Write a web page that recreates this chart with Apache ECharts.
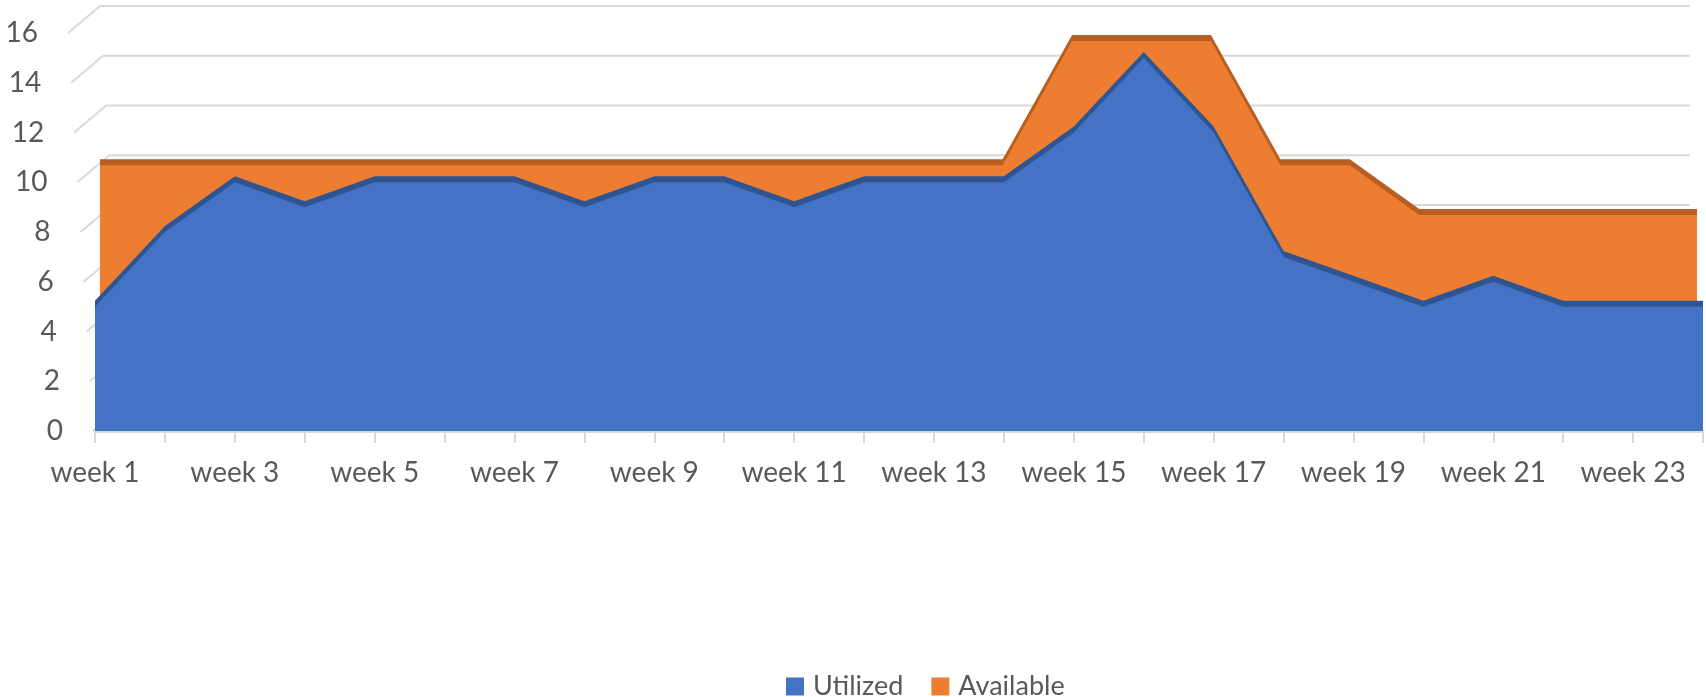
<!DOCTYPE html>
<html>
<head>
<meta charset="utf-8">
<script src="https://cdn.jsdelivr.net/npm/echarts@6/dist/echarts.min.js"></script>
<style>
  html, body { margin: 0; padding: 0; background: #fff; }
  #weekChart { width: 1706px; height: 697px; }
</style>
</head>
<body>
<div id="weekChart"></div>
<script>
var weeks = ['week 1', 'week 2', 'week 3', 'week 4', 'week 5', 'week 6', 'week 7', 'week 8',
  'week 9', 'week 10', 'week 11', 'week 12', 'week 13', 'week 14', 'week 15', 'week 16',
  'week 17', 'week 18', 'week 19', 'week 20', 'week 21', 'week 22', 'week 23', 'week 24'];
var utilized = [5, 8, 10, 9, 10, 10, 10, 9, 10, 10, 9, 10, 10, 10, 12, 15, 12, 7, 6, 5, 6, 5, 5, 5];
var available = [10, 10, 10, 10, 10, 10, 10, 10, 10, 10, 10, 10, 10, 10, 15, 15, 15, 10, 10, 8, 8, 8, 8, 8];
var yTicks = [0, 2, 4, 6, 8, 10, 12, 14, 16];

var textColor = '#595959';
var fontName = 'Lato';

var myChart = echarts.init(document.getElementById('weekChart'));

// y labels lean with the left wall, so pad each one a little differently
var labelRich = {};
yTicks.forEach(function (v) {
  labelRich['t' + v] = {
    color: textColor, fontFamily: fontName, fontSize: 28,
    padding: [0, v / 16 * 25, 0, 0]
  };
});

myChart.setOption({
  animation: false,
  backgroundColor: '#fff',
  legend: {
    left: 781,
    top: 668,
    icon: 'rect',
    itemWidth: 18,
    itemHeight: 18,
    itemGap: 28,
    textStyle: { color: textColor, fontFamily: fontName, fontSize: 27, padding: [0, 0, 0, 4] },
    data: ['Utilized', 'Available']
  },
  grid: [
    // front row (Utilized)
    { left: 95, right: 3, top: 33, height: 398 },
    // back row (Available), pushed up/in for depth
    { left: 100, right: 9, top: 16, height: 398 }
  ],
  xAxis: [
    {
      type: 'category',
      gridIndex: 0,
      data: weeks,
      boundaryGap: false,
      axisLine: { lineStyle: { color: '#d9d9d9', width: 3 } },
      axisTick: { show: true, interval: 0, length: 12, lineStyle: { color: '#d9d9d9', width: 2 } },
      axisLabel: { interval: 1, margin: 28, color: textColor, fontFamily: fontName, fontSize: 28 },
      splitLine: { show: false }
    },
    {
      type: 'category',
      gridIndex: 1,
      data: weeks,
      boundaryGap: false,
      show: false
    }
  ],
  yAxis: [
    {
      type: 'value',
      gridIndex: 0,
      min: 0,
      max: 16,
      interval: 2,
      axisLine: { show: false },
      axisTick: { show: false },
      splitLine: { show: false },
      axisLabel: {
        margin: 32,
        formatter: function (v) { return '{t' + v + '|' + v + '}'; },
        rich: labelRich
      }
    },
    {
      type: 'value',
      gridIndex: 1,
      min: 0,
      max: 16,
      interval: 2,
      show: false,
      splitLine: { show: false }
    }
  ],
  series: [
    {
      // back wall grid lines + left wall diagonals
      type: 'custom',
      silent: true,
      z: 1,
      xAxisIndex: 0,
      yAxisIndex: 0,
      data: yTicks.map(function (v) { return [0, v]; }),
      renderItem: function (params, api) {
        var v = api.value(1);
        var p = api.coord([0, v]);
        var xr = api.coord([weeks.length - 1, v])[0] - 13;
        var fx = p[0] - 27 + (16 - v) / 16 * 25;
        return {
          type: 'polyline',
          shape: { points: [[fx, p[1]], [fx + 32, p[1] - 27], [xr, p[1] - 27]] },
          style: { stroke: '#d9d9d9', lineWidth: 2, fill: null }
        };
      }
    },
    {
      name: 'Available',
      type: 'line',
      z: 2,
      xAxisIndex: 1,
      yAxisIndex: 1,
      data: available,
      symbol: 'none',
      itemStyle: { color: '#ED7D31' },
      lineStyle: { width: 0 },
      areaStyle: {
        color: '#ED7D31',
        opacity: 1,
        shadowColor: '#B85E23',
        shadowBlur: 0,
        shadowOffsetX: 0,
        shadowOffsetY: -6
      }
    },
    {
      name: 'Utilized',
      type: 'line',
      z: 3,
      xAxisIndex: 0,
      yAxisIndex: 0,
      data: utilized,
      symbol: 'none',
      itemStyle: { color: '#4472C4' },
      lineStyle: { width: 0 },
      areaStyle: {
        color: '#4472C4',
        opacity: 1,
        shadowColor: '#2F5492',
        shadowBlur: 0,
        shadowOffsetX: 0,
        shadowOffsetY: -6
      }
    }
  ]
});
</script>
</body>
</html>
